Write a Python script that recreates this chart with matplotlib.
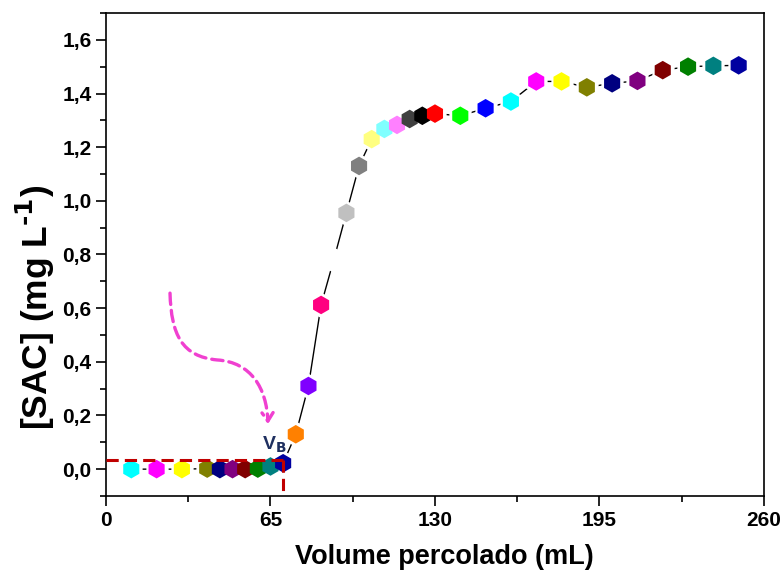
import matplotlib
matplotlib.use("Agg")
import matplotlib.pyplot as plt
from matplotlib.ticker import MultipleLocator, FuncFormatter
from matplotlib.path import Path
from matplotlib.patches import FancyArrowPatch

plt.rcParams['font.family'] = ['Liberation Sans', 'DejaVu Sans']
plt.rcParams['font.weight'] = 'bold'
plt.rcParams['mathtext.default'] = 'bf'

# Data
volume = [10, 20, 30, 40, 45, 50, 55, 60, 65, 70, 75, 80, 85, 90, 95, 100, 105,
          110, 115, 120, 125, 130, 140, 150, 160, 170, 180, 190, 200, 210, 220,
          230, 240, 250]
sac = [0.0, 0.0, 0.0, 0.002, 0.0, 0.0, 0.0, 0.002, 0.01, 0.022, 0.13, 0.31,
       0.612, 0.78, 0.955, 1.13, 1.23, 1.268, 1.283, 1.305, 1.317, 1.325,
       1.317, 1.345, 1.37, 1.445, 1.445, 1.423, 1.438, 1.447, 1.487, 1.5,
       1.503, 1.505]
colors = ['#00FFFF', '#FF00FF', '#FFFF00', '#808000', '#000080', '#800080',
          '#800000', '#008000', '#008080', '#0000A0', '#FF8000', '#8000FF',
          '#FF0080', '#FFFFFF', '#C0C0C0', '#808080', '#FFFF80', '#80FFFF',
          '#FF80FF', '#404040', '#000000', '#FF0000', '#00FF00', '#0000FF',
          '#00FFFF', '#FF00FF', '#FFFF00', '#808000', '#000080', '#800080',
          '#800000', '#008000', '#008080', '#0000A0']
vb_volume = 70
vb_level = 0.034
x_ticks = [0, 65, 130, 195, 260]
y_ticks = [0.0, 0.2, 0.4, 0.6, 0.8, 1.0, 1.2, 1.4, 1.6]

fig = plt.figure(figsize=(7.81, 5.78), dpi=100)
ax = fig.add_axes([0.1357, 0.1419, 0.8425, 0.8356])

ax.plot(volume, sac, color='black', lw=1.0, zorder=2)
ax.scatter(volume, sac, s=18.5**2, marker='h', c='white', linewidths=0, zorder=3)
ax.scatter(volume, sac, s=13.4**2, marker='h', c=colors, linewidths=0, zorder=4)

# breakthrough guide lines
ax.plot([0, vb_volume], [vb_level, vb_level], color='#C00000', lw=2.2,
        dashes=(4, 2), zorder=5)
ax.plot([vb_volume, vb_volume], [vb_level, -0.1], color='#C00000', lw=2.2,
        dashes=(4, 2), zorder=5)

# curved arrow
verts = [(25.3, 0.656), (25.8, 0.50), (30.0, 0.420), (43.9, 0.407),
         (57.5, 0.399), (63.5, 0.300), (64.0, 0.168)]
codes = [Path.MOVETO, Path.CURVE4, Path.CURVE4, Path.CURVE4,
         Path.CURVE4, Path.CURVE4, Path.CURVE4]
arrow = FancyArrowPatch(path=Path(verts, codes), arrowstyle='->,head_length=6,head_width=4',
                        color='#F040D0', lw=2.4, linestyle=(0, (3.4, 1.8)), zorder=6)
ax.add_patch(arrow)

ax.text(61.5, 0.072, r'V$_\mathbf{B}$', color='#1F3060', fontsize=14,
        fontweight='bold', zorder=6)

ax.set_xlim(0, 260)
ax.set_ylim(-0.1, 1.7)
ax.set_xticks(x_ticks)
ax.set_yticks(y_ticks)
ax.xaxis.set_minor_locator(MultipleLocator(32.5))
ax.yaxis.set_minor_locator(MultipleLocator(0.1))
ax.yaxis.set_major_formatter(FuncFormatter(lambda v, p: f'{v:.1f}'.replace('.', ',')))
ax.tick_params(which='major', direction='out', length=7, width=1.2,
               labelsize=15, top=False, right=False)
ax.tick_params(which='minor', direction='out', length=4, width=1.2,
               top=False, right=False)
for lab in ax.get_xticklabels() + ax.get_yticklabels():
    lab.set_fontweight('bold')
for sp in ax.spines.values():
    sp.set_linewidth(1.2)

ax.set_xlabel('Volume percolado (mL)', fontsize=19.5, fontweight='bold')
ax.set_ylabel(r'[SAC] (mg L$^{\text{-1}}$)', fontsize=25.5, fontweight='bold')
ax.xaxis.set_label_coords(0.514, -0.10)
ax.yaxis.set_label_coords(-0.074, 0.39)

fig.savefig('out.png', dpi=100)
